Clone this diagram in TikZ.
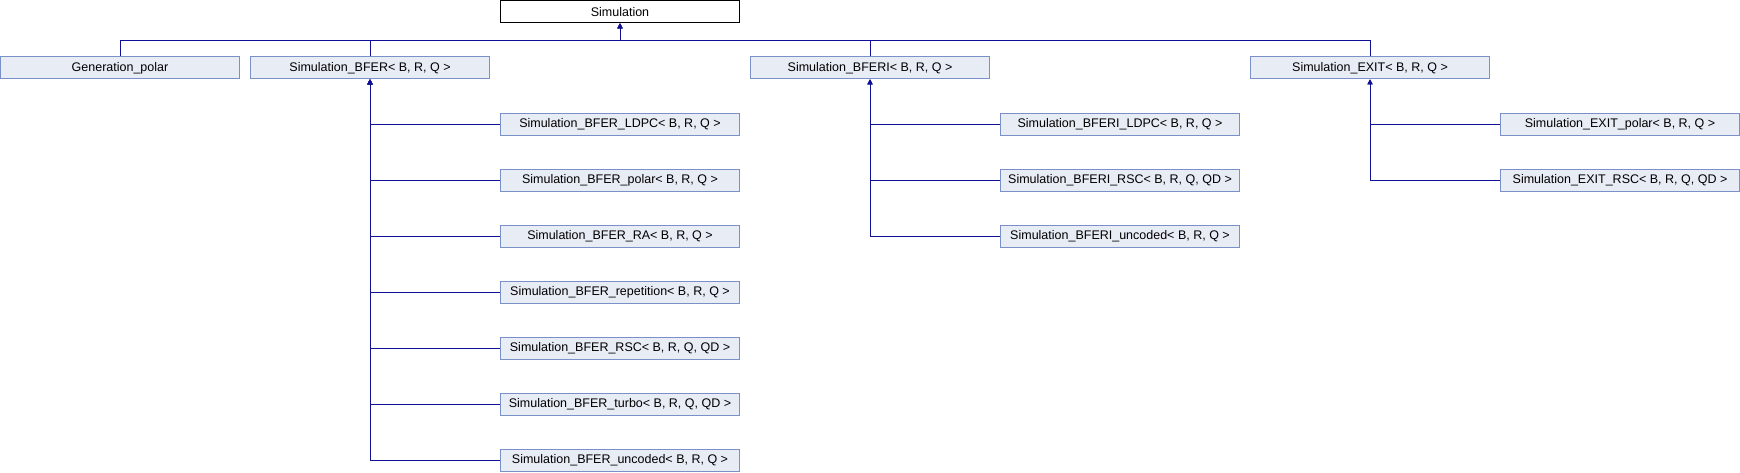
\documentclass[tikz,border=0pt]{standalone}
\usepackage{fontspec}
\setmainfont{Liberation Sans}
\usetikzlibrary{positioning,arrows.meta}
\definecolor{boxfill}{RGB}{232,236,245}
\definecolor{boxedge}{RGB}{122,144,200}
\definecolor{linkblue}{RGB}{16,16,150}
\tikzset{
    classbox/.style={
        draw=boxedge,
        line width=1pt,
        minimum width=238.5pt,
        minimum height=22pt,
        inner sep=0pt,
        align=center,
        fill=boxfill,
        font=\fontsize{12.5}{15}\selectfont
    },
    rootbox/.style={
        classbox,
        draw=black,
        fill=white
    },
    link/.style={
        -{Triangle[length=5pt,width=5pt]},
        line width=1pt,
        linkblue
    }
}

\begin{document}
\begin{tikzpicture}[x=1pt,y=-1pt,node distance=33pt]

    \useasboundingbox (0,0) rectangle (1740,472);

    \node[rootbox] (sim) at (620,11.8) {Simulation};
    \coordinate (simbus) at (620,40.3);

    \node[classbox] (gen) at (120,67.8) {Generation\_polar};
    \node[classbox, right=10.5pt of gen] (bfer) {Simulation\_BFER< B, R, Q >};
    \node[classbox, right=260.5pt of bfer] (bferi) {Simulation\_BFERI< B, R, Q >};
    \node[classbox, right=260.5pt of bferi] (exit) {Simulation\_EXIT< B, R, Q >};

    \node[classbox, below right=33.4pt and 10.5pt of bfer.south east] (bferldpc) {Simulation\_BFER\_LDPC< B, R, Q >};
    \node[classbox, below=of bferldpc] (bferpolar) {Simulation\_BFER\_polar< B, R, Q >};
    \node[classbox, below=of bferpolar] (bferra) {Simulation\_BFER\_RA< B, R, Q >};
    \node[classbox, below=of bferra] (bferrep) {Simulation\_BFER\_repetition< B, R, Q >};
    \node[classbox, below=of bferrep] (bferrsc) {Simulation\_BFER\_RSC< B, R, Q, QD >};
    \node[classbox, below=of bferrsc] (bferturbo) {Simulation\_BFER\_turbo< B, R, Q, QD >};
    \node[classbox, below=of bferturbo] (bferunc) {Simulation\_BFER\_uncoded< B, R, Q >};

    \node[classbox, below right=33.4pt and 10.5pt of bferi.south east] (bferildpc) {Simulation\_BFERI\_LDPC< B, R, Q >};
    \node[classbox, below=of bferildpc] (bferirsc) {Simulation\_BFERI\_RSC< B, R, Q, QD >};
    \node[classbox, below=of bferirsc] (bferiunc) {Simulation\_BFERI\_uncoded< B, R, Q >};

    \node[classbox, below right=33.4pt and 10.5pt of exit.south east] (exitpolar) {Simulation\_EXIT\_polar< B, R, Q >};
    \node[classbox, below=of exitpolar] (exitrsc) {Simulation\_EXIT\_RSC< B, R, Q, QD >};

    \draw[link] (gen.north) |- (simbus) -- (sim.south);
    \draw[link] (bfer.north) |- (simbus) -- (sim.south);
    \draw[link] (bferi.north) |- (simbus) -- (sim.south);
    \draw[link] (exit.north) |- (simbus) -- (sim.south);

    \draw[link] (bferldpc.west) -| (bfer.south);
    \draw[link] (bferpolar.west) -| (bfer.south);
    \draw[link] (bferra.west) -| (bfer.south);
    \draw[link] (bferrep.west) -| (bfer.south);
    \draw[link] (bferrsc.west) -| (bfer.south);
    \draw[link] (bferturbo.west) -| (bfer.south);
    \draw[link] (bferunc.west) -| (bfer.south);

    \draw[link] (bferildpc.west) -| (bferi.south);
    \draw[link] (bferirsc.west) -| (bferi.south);
    \draw[link] (bferiunc.west) -| (bferi.south);

    \draw[link] (exitpolar.west) -| (exit.south);
    \draw[link] (exitrsc.west) -| (exit.south);

\end{tikzpicture}
\end{document}
